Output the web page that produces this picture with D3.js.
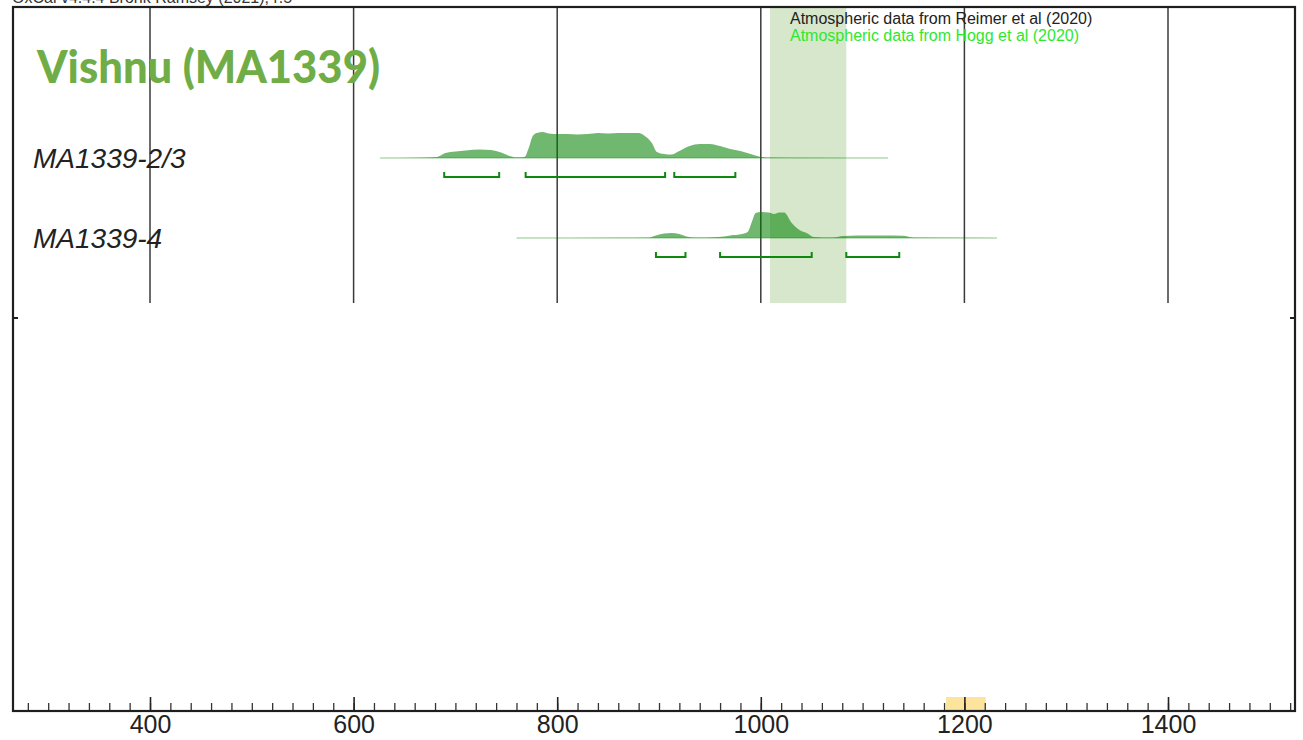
<!DOCTYPE html>
<html>
<head>
<meta charset="utf-8">
<script src="https://cdn.jsdelivr.net/npm/d3@7"></script>
<style>
  html, body { margin: 0; padding: 0; background: #fff; }
  svg { display: block; }
</style>
</head>
<body>
<div id="chart"></div>
<script>
// ---- data ----
var chartTitle = "Vishnu (MA1339)";
var headerText = "OxCal v4.4.4 Bronk Ramsey (2021); r:5";
var legendLines = ["Atmospheric data from Reimer et al (2020)", "Atmospheric data from Hogg et al (2020)"];
var sampleNames = ["MA1339-2/3", "MA1339-4"];

// relative probability (0-100) by calendar year
var dist23 = [
  [626,0],[660,1],[682,4],[690,19],[700,25],[710,29],[724,33],[735,31],[745,21],[752,10],
  [760,3],[768,4],[772,38],[776,85],[780,96],[786,100],[792,94],[800,92],[810,92],[820,90],
  [830,92],[840,96],[850,94],[860,96],[870,96],[880,96],[886,85],[893,58],[898,23],[905,15],
  [912,13],[920,27],[930,46],[940,54],[950,54],[960,46],[970,35],[980,27],[990,15],[998,6],
  [1010,2],[1050,1],[1125,0]
];
var dist4 = [
  [760,0],[860,1],[890,2],[897,10],[905,17],[912,19],[920,15],[927,6],[935,2],[958,4],
  [970,10],[980,14],[987,23],[991,60],[995,96],[1000,100],[1008,98],[1013,92],[1018,98],[1023,98],
  [1030,60],[1038,31],[1045,19],[1052,4],[1070,2],[1081,8],[1095,10],[1120,10],[1140,9],[1150,2],
  [1232,0]
];
// 95.4% ranges
var ranges23 = [[689,743],[769,906],[915,975]];
var ranges4 = [[897,926],[960,1050],[1084,1136]];

var bandYears = [1009, 1084];      // highlighted interval
var markYears = [1182, 1221];      // small marker on the axis
var majorTicks = [400, 600, 800, 1000, 1200, 1400];

// ---- layout ----
var width = 1303, height = 740;
var frame = {left: 13, right: 1295, top: 7, bottom: 711};
var gridBottom = 303;

var svg = d3.select("#chart").append("svg")
    .attr("width", width)
    .attr("height", height);

var x = d3.scaleLinear().domain([400, 1400]).range([150, 1168]);
var h = d3.scaleLinear().domain([0, 100]).range([0, 26]);

// header (cut off at the top edge, as in the source image)
svg.append("text")
    .attr("x", 12).attr("y", 3)
    .style("font-family", "Liberation Sans, Arial, sans-serif")
    .style("font-size", "16px")
    .style("fill", "#333")
    .text(headerText);

// highlighted band
svg.append("rect")
    .attr("x", x(bandYears[0]))
    .attr("y", frame.top + 1)
    .attr("width", x(bandYears[1]) - x(bandYears[0]))
    .attr("height", gridBottom - frame.top - 1)
    .style("fill", "#d6e7cb");

// vertical grid lines in the upper panel
svg.append("g").selectAll("line")
    .data(majorTicks)
    .enter().append("line")
    .attr("x1", function(d) { return x(d); })
    .attr("x2", function(d) { return x(d); })
    .attr("y1", frame.top)
    .attr("y2", gridBottom)
    .style("stroke", "#3a3a3a")
    .style("stroke-width", 1.5);

// orange marker on the axis
svg.append("rect")
    .attr("x", x(markYears[0]))
    .attr("y", frame.bottom - 14)
    .attr("width", x(markYears[1]) - x(markYears[0]))
    .attr("height", 14)
    .style("fill", "#fde49c");

// ---- distributions ----
var rows = [
  {name: sampleNames[0], dist: dist23, ranges: ranges23, base: 158},
  {name: sampleNames[1], dist: dist4, ranges: ranges4, base: 238}
];

rows.forEach(function(r) {
    var area = d3.area()
        .x(function(d) { return x(d[0]); })
        .y0(r.base)
        .y1(function(d) { return r.base - h(d[1]); })
        .curve(d3.curveMonotoneX);

    var ext = d3.extent(r.dist, function(d) { return d[0]; });
    svg.append("line")
        .attr("x1", x(ext[0])).attr("x2", x(ext[1]))
        .attr("y1", r.base).attr("y2", r.base)
        .style("stroke", "#008000")
        .style("stroke-opacity", 0.3)
        .style("stroke-width", 1.3);

    svg.append("path")
        .datum(r.dist)
        .attr("d", area)
        .style("fill", "#008000")
        .style("fill-opacity", 0.56);

    // range brackets
    var by = r.base + 19;
    svg.append("g").selectAll("path")
        .data(r.ranges)
        .enter().append("path")
        .attr("d", function(d) {
            return "M" + x(d[0]) + "," + (by - 5) + "V" + by + "H" + x(d[1]) + "V" + (by - 5);
        })
        .style("fill", "none")
        .style("stroke", "#0d8a0d")
        .style("stroke-width", 2);

    svg.append("text")
        .attr("x", 33).attr("y", r.base + 10)
        .style("font-family", "Liberation Sans, Arial, sans-serif")
        .style("font-style", "italic")
        .style("font-size", "28px")
        .style("fill", "#222")
        .text(r.name);
});

// legend
var legendColors = ["#222", "#2ee82e"];
legendLines.forEach(function(t, i) {
    svg.append("text")
        .attr("x", 790).attr("y", 24 + i * 17)
        .style("font-family", "Liberation Sans, Arial, sans-serif")
        .style("font-size", "16px")
        .style("fill", legendColors[i])
        .text(t);
});

// title
var title = svg.append("text")
    .attr("x", 37).attr("y", 83)
    .style("font-family", "Lato, 'Open Sans', sans-serif")
    .style("font-weight", "900")
    .style("font-size", "45px")
    .style("fill", "#70ad47")
    .text(chartTitle);
title.attr("textLength", 343).attr("lengthAdjust", "spacingAndGlyphs");

// ---- bottom axis ----
var minorAxis = d3.axisBottom(x)
    .tickValues(d3.range(280, 1521, 20))
    .tickSize(-8)
    .tickFormat("");
svg.append("g")
    .attr("transform", "translate(0," + frame.bottom + ")")
    .call(minorAxis)
    .call(function(g) { g.select(".domain").remove(); })
    .selectAll("line").style("stroke", "#333").style("stroke-width", 1.3);

var majorAxis = d3.axisBottom(x)
    .tickValues(majorTicks)
    .tickSize(-14)
    .tickPadding(4)
    .tickFormat(d3.format("d"));
var gx = svg.append("g")
    .attr("transform", "translate(0," + frame.bottom + ")")
    .call(majorAxis);
gx.select(".domain").remove();
gx.selectAll("line").style("stroke", "#222").style("stroke-width", 1.6);
gx.selectAll("text")
    .style("font-family", "Liberation Sans, Arial, sans-serif")
    .style("font-size", "25px")
    .style("fill", "#222");

// frame
svg.append("rect")
    .attr("x", frame.left).attr("y", frame.top)
    .attr("width", frame.right - frame.left)
    .attr("height", frame.bottom - frame.top)
    .style("fill", "none")
    .style("stroke", "#1e1e1e")
    .style("stroke-width", 2.2);

// small side ticks
[[frame.left, frame.left + 5], [frame.right - 5, frame.right]].forEach(function(p) {
    svg.append("line")
        .attr("x1", p[0]).attr("x2", p[1])
        .attr("y1", 318).attr("y2", 318)
        .style("stroke", "#1e1e1e")
        .style("stroke-width", 2);
});
</script>
</body>
</html>
